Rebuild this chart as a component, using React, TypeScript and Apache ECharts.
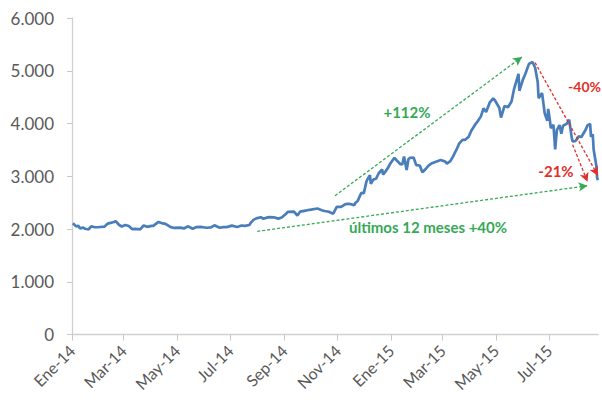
import React, { useEffect, useRef } from "react";
import * as echarts from "echarts";

// Daily closes (selected sessions)
const dates: string[] = [
  "2014-01-02","2014-01-06","2014-01-08","2014-01-10","2014-01-14","2014-01-16","2014-01-20","2014-01-23","2014-01-27","2014-01-30",
  "2014-02-07","2014-02-11","2014-02-14","2014-02-18","2014-02-20","2014-02-24","2014-02-27",
  "2014-03-03","2014-03-07","2014-03-11","2014-03-14","2014-03-20","2014-03-24","2014-03-28",
  "2014-04-02","2014-04-04","2014-04-10","2014-04-15","2014-04-18","2014-04-24","2014-04-28",
  "2014-05-05","2014-05-09","2014-05-14","2014-05-19","2014-05-23","2014-05-28",
  "2014-06-04","2014-06-09","2014-06-13","2014-06-19","2014-06-23","2014-06-27",
  "2014-07-03","2014-07-09","2014-07-14","2014-07-18","2014-07-23","2014-07-25","2014-07-28","2014-07-31",
  "2014-08-05","2014-08-08","2014-08-13","2014-08-15","2014-08-20","2014-08-25","2014-08-29",
  "2014-09-03","2014-09-05","2014-09-12","2014-09-16","2014-09-19","2014-09-24","2014-09-30",
  "2014-10-09","2014-10-14","2014-10-17","2014-10-22","2014-10-27","2014-10-31",
  "2014-11-05","2014-11-10","2014-11-14","2014-11-20","2014-11-21","2014-11-24","2014-11-28",
  "2014-12-01","2014-12-04","2014-12-05","2014-12-08","2014-12-09","2014-12-12","2014-12-15","2014-12-18",
  "2014-12-22","2014-12-23","2014-12-25","2014-12-29","2014-12-31",
  "2015-01-05","2015-01-08","2015-01-12","2015-01-14","2015-01-16","2015-01-19","2015-01-21","2015-01-23",
  "2015-01-27","2015-01-30","2015-02-03","2015-02-06","2015-02-10","2015-02-13","2015-02-17","2015-02-27",
  "2015-03-04","2015-03-06","2015-03-10","2015-03-13","2015-03-17","2015-03-20","2015-03-24","2015-03-27","2015-03-31",
  "2015-04-03","2015-04-08","2015-04-10","2015-04-14","2015-04-17","2015-04-20","2015-04-24","2015-04-28","2015-04-30",
  "2015-05-05","2015-05-07","2015-05-11","2015-05-15","2015-05-19","2015-05-22","2015-05-27","2015-05-28",
  "2015-06-01","2015-06-04","2015-06-08","2015-06-12","2015-06-15","2015-06-18","2015-06-19","2015-06-23",
  "2015-06-26","2015-06-29","2015-06-30","2015-07-02","2015-07-03","2015-07-06","2015-07-08","2015-07-09",
  "2015-07-10","2015-07-13","2015-07-15","2015-07-17","2015-07-21","2015-07-24","2015-07-27","2015-07-28",
  "2015-07-31","2015-08-04","2015-08-07","2015-08-12","2015-08-14","2015-08-17","2015-08-18","2015-08-20",
  "2015-08-21","2015-08-24","2015-08-25","2015-08-26",
];

const values: number[] = [
  2109,2045,2065,2013,2027,2004,1991,2051,2033,2033,
  2044,2103,2115,2132,2150,2076,2047,
  2075,2057,1997,2004,1993,2066,2041,
  2059,2058,2134,2106,2097,2036,2020,
  2027,2011,2051,2005,2034,2040,
  2024,2029,2070,2024,2034,2036,
  2063,2039,2066,2059,2075,2126,2178,2201,
  2224,2194,2221,2226,2222,2197,2217,
  2288,2326,2331,2255,2329,2345,2364,
  2389,2357,2341,2327,2290,2420,
  2420,2473,2478,2452,2487,2533,2683,
  2680,2900,2938,3020,2856,2938,2953,3057,
  3128,3032,3072,3168,3235,
  3350,3294,3229,3222,3376,3117,3323,3351,
  3352,3210,3204,3076,3142,3203,3247,3310,
  3280,3241,3286,3373,3503,3617,3691,3691,3748,
  3863,3995,4034,4135,4287,4217,4394,4476,4441,
  4298,4112,4333,4308,4417,4657,4941,4620,
  4829,4947,5131,5166,5062,4786,4478,4576,
  4192,4053,4277,4053,3912,3976,3507,3709,
  3877,3970,3805,3957,3992,4070,3725,3663,
  3664,3756,3744,3886,3965,3993,3748,3794,
  3507,3210,2965,2927,
];

const axisStart = "2014-01-01";
const axisEnd = "2015-08-26";
const tickDates: string[] = [
  "2014-01-01","2014-03-01","2014-05-01","2014-07-01","2014-09-01",
  "2014-11-01","2015-01-01","2015-03-01","2015-05-01","2015-07-01",
];
const tickLabels: string[] = [
  "Ene-14","Mar-14","May-14","Jul-14","Sep-14","Nov-14","Ene-15","Mar-15","May-15","Jul-15",
];
const yMax = 6000;
const yStep = 1000;

// annotation arrows: [startDate, startValue, endDate, endValue]
const greenArrows: [string, number, string, number][] = [
  ["2014-10-29", 2630, "2015-05-31", 5262],
  ["2014-08-01", 1955, "2015-08-14", 2820],
];
const redArrows: [string, number, string, number][] = [
  ["2015-06-15", 5154, "2015-08-26", 3010],
  ["2015-07-28", 3596, "2015-08-14", 2896],
];

const GREEN = "#35a955";
const RED = "#e0302a";
const BLUE = "#4a7ebb";

const day = (s: string) => {
  const [y, m, d] = s.split("-").map(Number);
  const [y0, m0, d0] = axisStart.split("-").map(Number);
  return (Date.UTC(y, m - 1, d) - Date.UTC(y0, m0 - 1, d0)) / 86400000;
};

const fmtThousands = (v: number) => {
  if (v === 0) return "0";
  const s = String(Math.round(v));
  return s.replace(/\B(?=(\d{3})+(?!\d))/g, ".");
};

export default function App() {
  const ref = useRef<HTMLDivElement>(null);
  useEffect(() => {
    if (!ref.current) return;
    const chart = echarts.init(ref.current, null, { renderer: "svg" });
    const seriesData = dates.map((d, i) => [day(d), values[i]]);
    const tickDays = tickDates.map(day);
    const labelByDay: Record<number, string> = {};
    tickDays.forEach((d, i) => (labelByDay[d] = tickLabels[i]));

    const arrow = (a: [string, number, string, number], color: string) => [
      {
        coord: [day(a[0]), a[1]],
        lineStyle: { color, type: [3, 2], width: 1.3 },
        itemStyle: { color },
      },
      { coord: [day(a[2]), a[3]], itemStyle: { color } },
    ];

    const font = "Lato, 'Open Sans', sans-serif";

    chart.setOption({
      animation: false,
      textStyle: { fontFamily: font },
      grid: { left: 72, right: 4, top: 18, bottom: 70.5, containLabel: false },
      xAxis: {
        type: "value",
        min: 0,
        max: day(axisEnd),
        splitLine: { show: false },
        axisLine: { show: true, lineStyle: { color: "#d0d0d0", width: 1.3 } },
        axisTick: { show: true, customValues: tickDays, length: 6, lineStyle: { color: "#c8c8c8" } },
        axisLabel: {
          customValues: tickDays,
          formatter: (v: number) => labelByDay[v] ?? "",
          rotate: 45,
          margin: 13,
          color: "#595959",
          fontSize: 16,
          fontFamily: font,
        },
      },
      yAxis: {
        type: "value",
        min: 0,
        max: yMax,
        interval: yStep,
        splitLine: { show: false },
        axisLine: { show: true, lineStyle: { color: "#d0d0d0", width: 1.3 } },
        axisTick: { show: true, length: 5, lineStyle: { color: "#c8c8c8" } },
        axisLabel: {
          formatter: fmtThousands,
          margin: 18,
          color: "#595959",
          fontSize: 17,
          fontFamily: font,
        },
      },
      series: [
        {
          type: "line",
          data: seriesData,
          showSymbol: false,
          symbol: "none",
          lineStyle: { color: BLUE, width: 2.7 },
          itemStyle: { color: BLUE },
          clip: false,
          markLine: {
            silent: true,
            symbol: ["none", "arrow"],
            symbolSize: [7, 9],
            label: { show: false },
            emphasis: { disabled: true },
            data: [
              ...greenArrows.map((a) => arrow(a, GREEN)),
              ...redArrows.map((a) => arrow(a, RED)),
            ],
          },
        },
      ],
      graphic: [
        {
          type: "text",
          x: 407,
          y: 112,
          style: {
            text: "+112%",
            fill: GREEN,
            font: `bold 15px ${font}`,
            align: "center",
            verticalAlign: "middle",
            textAlign: "center",
            textVerticalAlign: "middle",
          },
        },
        {
          type: "text",
          x: 428,
          y: 227,
          style: {
            text: "últimos 12 meses +40%",
            fill: GREEN,
            font: `bold 15px ${font}`,
            align: "center",
            verticalAlign: "middle",
            textAlign: "center",
            textVerticalAlign: "middle",
          },
        },
        {
          type: "text",
          x: 601,
          y: 86,
          style: {
            text: "-40%",
            fill: RED,
            font: `bold 14px ${font}`,
            align: "right",
            verticalAlign: "middle",
            textAlign: "right",
            textVerticalAlign: "middle",
          },
        },
        {
          type: "text",
          x: 556,
          y: 171,
          style: {
            text: "-21%",
            fill: RED,
            font: `bold 15px ${font}`,
            align: "center",
            verticalAlign: "middle",
            textAlign: "center",
            textVerticalAlign: "middle",
          },
        },
      ],
    });
    return () => chart.dispose();
  }, []);
  return (
    <div
      ref={ref}
      style={{ position: "fixed", left: 0, top: 0, width: 602, height: 405, background: "#fff" }}
    />
  );
}
